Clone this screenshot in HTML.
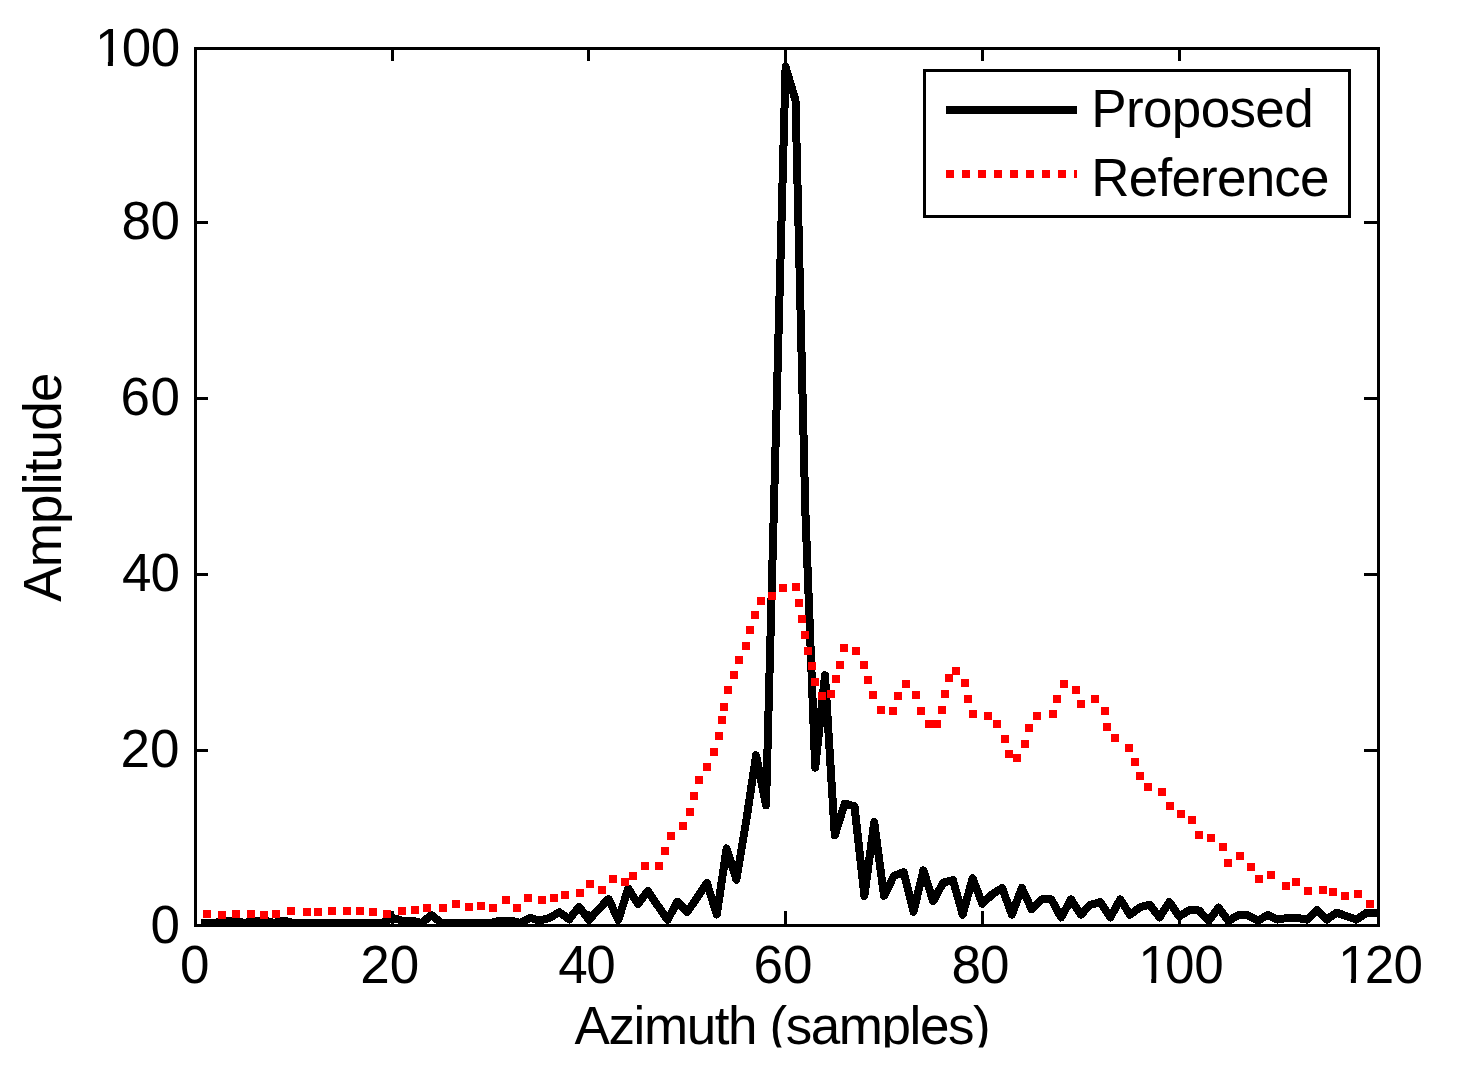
<!DOCTYPE html>
<html><head><meta charset="utf-8"><style>
html,body{margin:0;padding:0;background:#fff;}
svg{display:block;}
</style></head><body>
<svg width="1458" height="1065" viewBox="0 0 1458 1065">
<rect width="1458" height="1065" fill="#fff"/>
<defs><clipPath id="ax"><rect x="197" y="50" width="1180" height="874"/></clipPath>
<clipPath id="bot"><rect x="0" y="0" width="1458" height="1047.5"/></clipPath><clipPath id="c1_0"><rect x="89.90" y="20.65" width="40" height="41"/><rect x="107.90" y="20.65" width="5" height="46"/></clipPath><clipPath id="c1_1"><rect x="1133.20" y="937.85" width="40" height="41"/><rect x="1151.20" y="937.85" width="5" height="46"/></clipPath><clipPath id="c1_2"><rect x="1332.90" y="937.85" width="40" height="41"/><rect x="1350.90" y="937.85" width="5" height="46"/></clipPath></defs>
<g clip-path="url(#ax)" shape-rendering="crispEdges">
<polyline points="205.1,923.0 215.0,923.0 224.8,920.5 234.7,920.5 244.5,923.0 254.3,920.5 264.2,920.5 274.0,923.0 283.9,920.5 293.7,923.0 303.5,923.0 313.4,923.0 323.2,923.0 333.0,923.0 342.9,923.0 352.7,923.0 362.6,923.0 372.4,923.0 382.2,923.0 392.1,917.9 401.9,920.5 411.8,920.5 421.6,923.0 431.4,915.0 441.3,923.0 451.1,923.0 461.0,923.0 470.8,923.0 480.6,923.0 490.5,923.0 500.3,920.5 510.1,920.5 520.0,923.0 529.8,917.9 539.7,920.5 549.5,917.9 559.3,912.2 569.2,919.4 579.0,906.8 588.9,919.9 598.7,909.1 608.5,899.0 618.4,919.9 628.2,888.5 638.1,904.0 647.9,891.0 657.7,905.6 667.6,919.8 677.4,901.7 687.2,912.0 697.1,897.7 706.9,883.0 716.8,914.5 726.6,848.4 736.4,879.7 746.3,820.3 756.1,755.3 766.0,805.4 775.8,436.2 785.6,67.0 795.5,100.4 805.3,510.0 815.2,767.6 825.0,675.3 834.8,835.3 844.7,803.6 854.5,806.3 864.4,895.9 874.2,822.1 884.0,895.9 893.9,875.7 903.7,872.2 913.5,911.7 923.4,870.4 933.2,901.2 943.1,882.7 952.9,880.1 962.7,914.6 972.6,878.3 982.4,903.8 992.3,894.2 1002.1,888.0 1011.9,914.6 1021.8,888.0 1031.6,909.1 1041.5,899.4 1051.3,899.4 1061.1,917.4 1071.0,899.4 1080.8,914.6 1090.6,904.7 1100.5,902.1 1110.3,917.4 1120.2,899.4 1130.0,914.7 1139.8,907.3 1149.7,904.7 1159.5,917.4 1169.4,902.1 1179.2,916.3 1189.0,910.4 1198.9,910.4 1208.7,920.8 1218.6,907.7 1228.4,920.8 1238.2,915.3 1248.1,915.3 1257.9,920.7 1267.8,914.9 1277.6,919.6 1287.4,917.9 1297.3,917.9 1307.1,919.6 1316.9,910.0 1326.8,919.6 1336.6,912.6 1346.5,916.1 1356.3,919.6 1366.1,913.0 1376.0,913.0" fill="none" stroke="#000" stroke-width="8" stroke-linejoin="round" stroke-linecap="square"/>
<rect x="203" y="910" width="8" height="8" fill="#f00"/><rect x="218" y="911" width="8" height="8" fill="#f00"/><rect x="232" y="910" width="8" height="8" fill="#f00"/><rect x="247" y="910" width="8" height="8" fill="#f00"/><rect x="260" y="911" width="8" height="8" fill="#f00"/><rect x="272" y="910" width="8" height="8" fill="#f00"/><rect x="287" y="907" width="8" height="8" fill="#f00"/><rect x="303" y="908" width="8" height="8" fill="#f00"/><rect x="314" y="908" width="8" height="8" fill="#f00"/><rect x="328" y="907" width="8" height="8" fill="#f00"/><rect x="343" y="907" width="8" height="8" fill="#f00"/><rect x="356" y="907" width="8" height="8" fill="#f00"/><rect x="369" y="908" width="8" height="8" fill="#f00"/><rect x="383" y="910" width="8" height="8" fill="#f00"/><rect x="398" y="907" width="8" height="8" fill="#f00"/><rect x="411" y="906" width="8" height="8" fill="#f00"/><rect x="423" y="904" width="8" height="8" fill="#f00"/><rect x="439" y="904" width="8" height="8" fill="#f00"/><rect x="452" y="900" width="8" height="8" fill="#f00"/><rect x="465" y="903" width="8" height="8" fill="#f00"/><rect x="477" y="902" width="8" height="8" fill="#f00"/><rect x="489" y="904" width="8" height="8" fill="#f00"/><rect x="502" y="896" width="8" height="8" fill="#f00"/><rect x="513" y="904" width="8" height="8" fill="#f00"/><rect x="524" y="894" width="8" height="8" fill="#f00"/><rect x="538" y="896" width="8" height="8" fill="#f00"/><rect x="550" y="894" width="8" height="8" fill="#f00"/><rect x="561" y="891" width="8" height="8" fill="#f00"/><rect x="576" y="889" width="8" height="8" fill="#f00"/><rect x="586" y="880" width="8" height="8" fill="#f00"/><rect x="598" y="886" width="8" height="8" fill="#f00"/><rect x="609" y="875" width="8" height="8" fill="#f00"/><rect x="621" y="878" width="8" height="8" fill="#f00"/><rect x="629" y="872" width="8" height="8" fill="#f00"/><rect x="641" y="862" width="8" height="8" fill="#f00"/><rect x="655" y="862" width="8" height="8" fill="#f00"/><rect x="661" y="847" width="8" height="8" fill="#f00"/><rect x="667" y="832" width="8" height="8" fill="#f00"/><rect x="679" y="822" width="8" height="8" fill="#f00"/><rect x="686" y="808" width="8" height="8" fill="#f00"/><rect x="690" y="792" width="8" height="8" fill="#f00"/><rect x="695" y="776" width="8" height="8" fill="#f00"/><rect x="703" y="763" width="8" height="8" fill="#f00"/><rect x="710" y="748" width="8" height="8" fill="#f00"/><rect x="715" y="732" width="8" height="8" fill="#f00"/><rect x="718" y="716" width="8" height="8" fill="#f00"/><rect x="720" y="703" width="8" height="8" fill="#f00"/><rect x="724" y="686" width="8" height="8" fill="#f00"/><rect x="730" y="671" width="8" height="8" fill="#f00"/><rect x="735" y="656" width="8" height="8" fill="#f00"/><rect x="742" y="642" width="8" height="8" fill="#f00"/><rect x="746" y="626" width="8" height="8" fill="#f00"/><rect x="751" y="611" width="8" height="8" fill="#f00"/><rect x="757" y="597" width="8" height="8" fill="#f00"/><rect x="768" y="592" width="8" height="8" fill="#f00"/><rect x="779" y="584" width="8" height="8" fill="#f00"/><rect x="792" y="583" width="8" height="8" fill="#f00"/><rect x="795" y="599" width="8" height="8" fill="#f00"/><rect x="798" y="615" width="8" height="8" fill="#f00"/><rect x="801" y="631" width="8" height="8" fill="#f00"/><rect x="804" y="647" width="8" height="8" fill="#f00"/><rect x="808" y="662" width="8" height="8" fill="#f00"/><rect x="811" y="678" width="8" height="8" fill="#f00"/><rect x="818" y="692" width="8" height="8" fill="#f00"/><rect x="827" y="690" width="8" height="8" fill="#f00"/><rect x="832" y="675" width="8" height="8" fill="#f00"/><rect x="836" y="661" width="8" height="8" fill="#f00"/><rect x="840" y="644" width="8" height="8" fill="#f00"/><rect x="852" y="647" width="8" height="8" fill="#f00"/><rect x="860" y="661" width="8" height="8" fill="#f00"/><rect x="864" y="676" width="8" height="8" fill="#f00"/><rect x="869" y="691" width="8" height="8" fill="#f00"/><rect x="877" y="706" width="8" height="8" fill="#f00"/><rect x="889" y="707" width="8" height="8" fill="#f00"/><rect x="894" y="692" width="8" height="8" fill="#f00"/><rect x="902" y="680" width="8" height="8" fill="#f00"/><rect x="912" y="691" width="8" height="8" fill="#f00"/><rect x="917" y="707" width="8" height="8" fill="#f00"/><rect x="925" y="720" width="8" height="8" fill="#f00"/><rect x="933" y="720" width="8" height="8" fill="#f00"/><rect x="938" y="706" width="8" height="8" fill="#f00"/><rect x="941" y="690" width="8" height="8" fill="#f00"/><rect x="945" y="674" width="8" height="8" fill="#f00"/><rect x="952" y="667" width="8" height="8" fill="#f00"/><rect x="961" y="679" width="8" height="8" fill="#f00"/><rect x="964" y="695" width="8" height="8" fill="#f00"/><rect x="969" y="710" width="8" height="8" fill="#f00"/><rect x="984" y="712" width="8" height="8" fill="#f00"/><rect x="993" y="720" width="8" height="8" fill="#f00"/><rect x="1001" y="735" width="8" height="8" fill="#f00"/><rect x="1005" y="750" width="8" height="8" fill="#f00"/><rect x="1013" y="754" width="8" height="8" fill="#f00"/><rect x="1021" y="740" width="8" height="8" fill="#f00"/><rect x="1025" y="724" width="8" height="8" fill="#f00"/><rect x="1033" y="712" width="8" height="8" fill="#f00"/><rect x="1049" y="710" width="8" height="8" fill="#f00"/><rect x="1053" y="695" width="8" height="8" fill="#f00"/><rect x="1060" y="680" width="8" height="8" fill="#f00"/><rect x="1072" y="686" width="8" height="8" fill="#f00"/><rect x="1077" y="700" width="8" height="8" fill="#f00"/><rect x="1091" y="695" width="8" height="8" fill="#f00"/><rect x="1101" y="707" width="8" height="8" fill="#f00"/><rect x="1103" y="723" width="8" height="8" fill="#f00"/><rect x="1111" y="734" width="8" height="8" fill="#f00"/><rect x="1125" y="744" width="8" height="8" fill="#f00"/><rect x="1131" y="758" width="8" height="8" fill="#f00"/><rect x="1136" y="772" width="8" height="8" fill="#f00"/><rect x="1144" y="783" width="8" height="8" fill="#f00"/><rect x="1158" y="788" width="8" height="8" fill="#f00"/><rect x="1166" y="802" width="8" height="8" fill="#f00"/><rect x="1177" y="810" width="8" height="8" fill="#f00"/><rect x="1188" y="816" width="8" height="8" fill="#f00"/><rect x="1195" y="831" width="8" height="8" fill="#f00"/><rect x="1207" y="834" width="8" height="8" fill="#f00"/><rect x="1219" y="843" width="8" height="8" fill="#f00"/><rect x="1224" y="859" width="8" height="8" fill="#f00"/><rect x="1236" y="852" width="8" height="8" fill="#f00"/><rect x="1247" y="863" width="8" height="8" fill="#f00"/><rect x="1255" y="875" width="8" height="8" fill="#f00"/><rect x="1267" y="871" width="8" height="8" fill="#f00"/><rect x="1282" y="882" width="8" height="8" fill="#f00"/><rect x="1292" y="878" width="8" height="8" fill="#f00"/><rect x="1304" y="887" width="8" height="8" fill="#f00"/><rect x="1319" y="886" width="8" height="8" fill="#f00"/><rect x="1329" y="888" width="8" height="8" fill="#f00"/><rect x="1341" y="892" width="8" height="8" fill="#f00"/><rect x="1354" y="890" width="8" height="8" fill="#f00"/><rect x="1366" y="900" width="8" height="8" fill="#f00"/>
</g>
<g shape-rendering="crispEdges">
<rect x="194" y="47" width="1186" height="3" fill="#000"/><rect x="194" y="924" width="1186" height="3" fill="#000"/><rect x="194" y="47" width="3" height="880" fill="#000"/><rect x="1377" y="47" width="3" height="880" fill="#000"/><rect x="391" y="911" width="3" height="13" fill="#000"/><rect x="391" y="50" width="3" height="11" fill="#000"/><rect x="587" y="911" width="3" height="13" fill="#000"/><rect x="587" y="50" width="3" height="11" fill="#000"/><rect x="784" y="911" width="3" height="13" fill="#000"/><rect x="784" y="50" width="3" height="14" fill="#000"/><rect x="981" y="911" width="3" height="13" fill="#000"/><rect x="981" y="50" width="3" height="11" fill="#000"/><rect x="1178" y="911" width="3" height="13" fill="#000"/><rect x="1178" y="50" width="3" height="11" fill="#000"/><rect x="197" y="221" width="11" height="3" fill="#000"/><rect x="1364" y="221" width="13" height="3" fill="#000"/><rect x="197" y="397" width="11" height="3" fill="#000"/><rect x="1364" y="397" width="13" height="3" fill="#000"/><rect x="197" y="573" width="11" height="3" fill="#000"/><rect x="1364" y="573" width="13" height="3" fill="#000"/><rect x="197" y="749" width="11" height="3" fill="#000"/><rect x="1364" y="749" width="13" height="3" fill="#000"/>
<rect x="923" y="69" width="428" height="149" fill="#000"/><rect x="926" y="72" width="422" height="143" fill="#fff"/>
<rect x="946" y="106" width="131" height="8" fill="#000"/>
<rect x="946" y="170" width="8" height="8" fill="#f00"/><rect x="962" y="170" width="8" height="8" fill="#f00"/><rect x="978" y="170" width="8" height="8" fill="#f00"/><rect x="994" y="170" width="8" height="8" fill="#f00"/><rect x="1010" y="170" width="8" height="8" fill="#f00"/><rect x="1026" y="170" width="8" height="8" fill="#f00"/><rect x="1042" y="170" width="8" height="8" fill="#f00"/><rect x="1058" y="170" width="8" height="8" fill="#f00"/><rect x="1074" y="170" width="3" height="8" fill="#f00"/>
</g>
<g font-family="'Liberation Sans', sans-serif" font-size="53" fill="#000">
<text x="1091.30" y="127.10" letter-spacing="-0.65">Proposed</text><text x="1091.30" y="196.35" letter-spacing="-0.79">Reference</text>
<text x="180.00" y="982.85">0</text><text x="360.25" y="982.85">20</text><text x="558.20" y="982.85" letter-spacing="-1.50">40</text><text x="753.55" y="982.85">60</text><text x="951.60" y="982.85" letter-spacing="-1.00">80</text><text x="150.60" y="942.85">0</text><text x="120.60" y="766.90">20</text><text x="122.05" y="590.80" letter-spacing="-1.00">40</text><text x="120.45" y="415.05" letter-spacing="0.50">60</text><text x="121.45" y="239.15" letter-spacing="-0.50">80</text><text x="94.90" y="65.65" clip-path="url(#c1_0)">1</text><text x="121.72" y="65.65" letter-spacing="-0.35">00</text><text x="1138.20" y="982.85" clip-path="url(#c1_1)">1</text><text x="1165.02" y="982.85" letter-spacing="-0.35">00</text><text x="1337.90" y="982.85" clip-path="url(#c1_2)">1</text><text x="1364.67" y="982.85" letter-spacing="-0.75">20</text>
<text transform="translate(60.95 601.8) rotate(-90)" letter-spacing="-0.81">Amplitude</text>
<g clip-path="url(#bot)"><text x="574.5" y="1044.00" letter-spacing="-1.41">Azimuth (samples)</text></g>
</g>
</svg>
</body></html>
